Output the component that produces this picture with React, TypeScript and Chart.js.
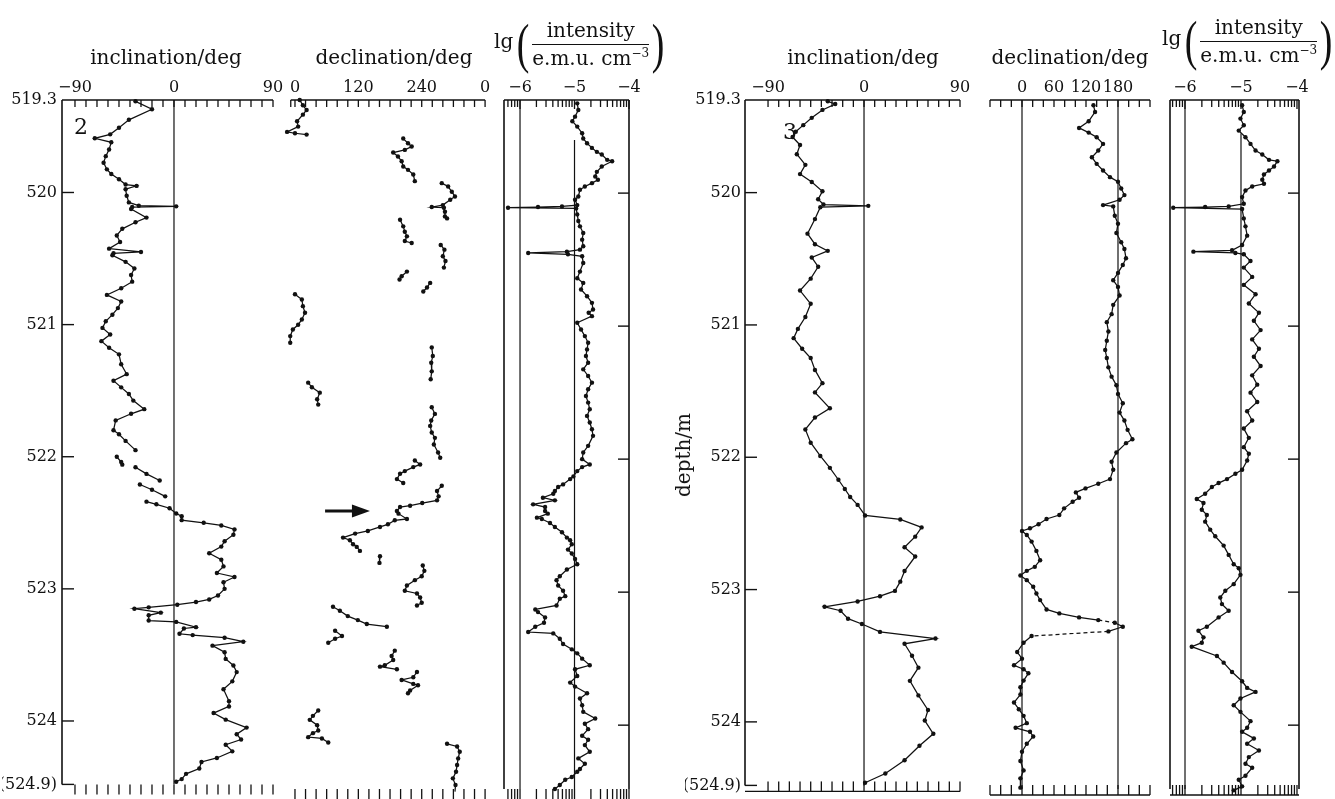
import React, { useEffect, useRef } from "react";
import { Chart, registerables } from "chart.js";
Chart.register(...registerables);

const INK = "#111111";
const SERIF = "'DejaVu Serif', 'Liberation Serif', serif";
const W = 1335;
const H = 799;

// ---------------- depth axis ----------------
const depthTop = 519.3;
const depthBottom = 524.48;
const depthTickValues = [519.3, 520, 521, 522, 523, 524, 524.48];
const depthTickLabels = ["519.3", "520", "521", "522", "523", "524", "(524.9)"];

// ---------------- x-axis ticks ----------------
const incTickValues = [-90, -80, -70, -60, -50, -40, -30, -20, -10, 0, 10, 20, 30, 40, 50, 60, 70, 80, 90];
const incLabelValues = [-90, 0, 90];
const incLabelTexts = ["\u221290", "0", "90"];
const decLTickValues = [-8, 0, 20, 40, 60, 80, 100, 120, 140, 160, 180, 200, 220, 240, 260, 280, 300, 320, 340, 360];
const decLLabelValues = [0, 120, 240, 360];
const decLLabelTexts = ["0", "120", "240", "0"];
const decRTickValues = [-60, -40, -20, 0, 20, 40, 60, 80, 100, 120, 140, 160, 180, 200, 220, 240];
const decRLabelValues = [0, 60, 120, 180];
const decRLabelTexts = ["0", "60", "120", "180"];
const intLabelValues = [-6, -5, -4];
const intLabelTexts = ["\u22126", "\u22125", "\u22124"];
const intDecades = [-7, -6, -5];
const intMultipliers = [1, 2, 3, 4, 5, 6, 7, 8, 9];

function logTicks(from: number, to: number) {
  const out: number[] = [];
  intDecades.forEach((e) => intMultipliers.forEach((k) => {
    const v = e + Math.log10(k);
    if (v >= from - 1e-6 && v <= to + 1e-6) out.push(v);
  }));
  out.push(-4);
  return out;
}

// ---------------- series: core 2 (left) ----------------
const incL_depth = [519.31, 519.37, 519.45, 519.51, 519.56, 519.59, 519.62, 519.675, 519.725, 519.775, 519.825, 519.86, 519.9, 519.94, 519.95, 519.975, 520.025, 520.075, 520.1, 520.105, 520.11, 520.125, 520.19, 520.225, 520.275, 520.325, 520.375, 520.425, 520.45, 520.46, 520.475, 520.525, 520.575, 520.625, 520.675, 520.725, 520.775, 520.825, 520.875, 520.925, 520.975, 521.025, 521.075, 521.125, 521.175, 521.225, 521.3, 521.375, 521.425, 521.475, 521.525, 521.575, 521.64, 521.675, 521.725, 521.8, 521.83, 521.88, 521.95, 521.98, 522.0, 522.04, 522.06, 522.07, 522.08, 522.13, 522.18, 522.2, 522.21, 522.25, 522.3, 522.32, 522.34, 522.36, 522.39, 522.43, 522.45, 522.48, 522.5, 522.52, 522.55, 522.59, 522.64, 522.68, 522.73, 522.78, 522.83, 522.88, 522.91, 522.95, 523.0, 523.05, 523.08, 523.1, 523.12, 523.14, 523.15, 523.18, 523.2, 523.24, 523.25, 523.29, 523.3, 523.34, 523.35, 523.37, 523.4, 523.43, 523.48, 523.53, 523.58, 523.63, 523.7, 523.76, 523.85, 523.89, 523.94, 523.99, 524.05, 524.1, 524.14, 524.18, 524.23, 524.28, 524.31, 524.36, 524.4, 524.44, 524.46];
const incL_value = [-35, -20, -41, -50, -58, -72, -57, -59, -62, -64, -61, -57, -50, -44, -34, -44, -43, -41, -32, 2, -38, -39, -25, -35, -47, -52, -49, -59, -30, -55, -56, -44, -36, -39, -38, -48, -61, -48, -51, -56, -62, -65, -58, -66, -59, -50, -48, -43, -55, -48, -41, -37, -27, -39, -53, -55, -50, -44, -35, null, -52, -48, -47, null, -35, -25, -13, null, -31, -20, -8, null, -25, -16, -4, 2, 7, 7, 27, 43, 55, 54, 46, 43, 32, 43, 45, 39, 55, 45, 46, 40, 32, 20, 3, -23, -36, -12, -23, -23, 2, 20, 9, 5, 17, 46, 63, 35, 46, 47, 54, 57, 53, 45, 50, 50, 36, 47, 66, 57, 61, 47, 53, 39, 25, 23, 11, 7, 2];

const decL_depth = [519.3, 519.34, 519.375, 519.41, 519.46, 519.5, 519.54, 519.55, 519.56, 519.575, 519.59, 519.625, 519.65, 519.675, 519.695, 519.725, 519.76, 519.8, 519.825, 519.86, 519.91, 519.92, 519.925, 519.95, 519.99, 520.025, 520.05, 520.09, 520.105, 520.11, 520.14, 520.175, 520.19, 520.195, 520.2, 520.25, 520.29, 520.325, 520.36, 520.375, 520.38, 520.39, 520.425, 520.475, 520.51, 520.56, 520.58, 520.59, 520.625, 520.65, 520.66, 520.675, 520.71, 520.74, 520.75, 520.76, 520.8, 520.85, 520.9, 520.95, 520.99, 521.025, 521.075, 521.125, 521.14, 521.16, 521.225, 521.275, 521.34, 521.4, 521.41, 521.425, 521.46, 521.5, 521.55, 521.59, 521.6, 521.61, 521.66, 521.71, 521.75, 521.8, 521.84, 521.89, 521.95, 521.99, 522.0, 522.01, 522.04, 522.06, 522.09, 522.11, 522.15, 522.18, 522.19, 522.2, 522.24, 522.28, 522.31, 522.33, 522.35, 522.36, 522.39, 522.41, 522.45, 522.46, 522.49, 522.51, 522.54, 522.56, 522.59, 522.61, 522.64, 522.66, 522.69, 522.71, 522.73, 522.78, 522.79, 522.8, 522.84, 522.88, 522.91, 522.95, 522.99, 523.01, 523.04, 523.08, 523.1, 523.105, 523.11, 523.14, 523.18, 523.21, 523.24, 523.26, 523.27, 523.29, 523.33, 523.35, 523.38, 523.41, 523.44, 523.48, 523.51, 523.55, 523.56, 523.58, 523.59, 523.6, 523.64, 523.66, 523.69, 523.7, 523.74, 523.76, 523.82, 523.89, 523.93, 523.96, 524.0, 524.04, 524.06, 524.09, 524.1, 524.13, 524.135, 524.14, 524.16, 524.2, 524.25, 524.3, 524.35, 524.4, 524.45, 524.5];
const decL_value = [9, 15, 22, 15, 4, 6, -15, 0, 22, null, 205, 214, 221, 208, 186, 195, 202, 205, 214, 224, 227, null, 278, 290, 297, 303, 294, 280, 259, 282, 284, 284, 288, null, 199, 205, 208, 212, 208, 221, null, 276, 283, 280, 285, 282, null, 212, 202, 198, null, 256, 250, 243, null, 0, 13, 15, 19, 13, 6, -4, -9, -9, null, 259, 261, 258, 259, 257, null, 25, 32, 47, 42, 44, null, 259, 265, 258, 256, 259, 265, 263, 271, 275, null, 227, 237, 224, 208, 199, 193, 205, null, 278, 269, 272, 269, 241, 218, 199, 193, 196, 212, 189, 176, 161, 138, 114, 91, 104, 110, 117, 123, null, 161, 160, null, 242, 245, 240, 227, 212, 208, 231, 237, 240, 231, null, 72, 85, 100, 119, 136, 174, null, 76, 89, 76, 63, null, 189, 183, 186, 170, 161, 193, null, 231, 224, 202, 224, 233, 218, 214, null, 44, 34, 28, 42, 44, 34, 25, 51, 63, null, 288, 307, 312, 309, 307, 305, 299, 304, 303];

const intL_depth = [519.325, 519.375, 519.425, 519.46, 519.5, 519.55, 519.59, 519.625, 519.66, 519.69, 519.71, 519.75, 519.76, 519.8, 519.84, 519.875, 519.9, 519.925, 519.95, 519.975, 520.025, 520.05, 520.09, 520.1, 520.105, 520.11, 520.115, 520.16, 520.21, 520.25, 520.3, 520.35, 520.4, 520.425, 520.44, 520.45, 520.46, 520.475, 520.525, 520.59, 520.64, 520.675, 520.725, 520.775, 520.825, 520.875, 520.9, 520.925, 520.975, 521.025, 521.075, 521.125, 521.175, 521.225, 521.275, 521.325, 521.375, 521.425, 521.475, 521.525, 521.575, 521.625, 521.675, 521.725, 521.775, 521.825, 521.9, 521.95, 522.0, 522.04, 522.06, 522.09, 522.13, 522.15, 522.19, 522.21, 522.24, 522.26, 522.29, 522.31, 522.34, 522.36, 522.39, 522.41, 522.44, 522.45, 522.48, 522.51, 522.55, 522.59, 522.61, 522.64, 522.68, 522.71, 522.75, 522.79, 522.83, 522.88, 522.91, 522.95, 522.99, 523.03, 523.05, 523.1, 523.13, 523.15, 523.19, 523.23, 523.26, 523.3, 523.31, 523.35, 523.39, 523.43, 523.46, 523.5, 523.55, 523.58, 523.63, 523.68, 523.71, 523.76, 523.8, 523.85, 523.9, 523.95, 523.99, 524.03, 524.08, 524.11, 524.15, 524.2, 524.25, 524.29, 524.33, 524.35, 524.39, 524.41, 524.45, 524.48];
const intL_value = [-4.95, -4.93, -4.99, -5.04, -4.95, -4.86, -4.84, -4.77, -4.68, -4.59, -4.5, -4.4, -4.31, -4.5, -4.59, -4.62, -4.57, -4.68, -4.81, -4.9, -4.93, -4.99, -4.95, -5.23, -5.67, -6.22, -4.97, -4.95, -4.93, -4.9, -4.84, -4.86, -4.84, -4.9, -5.14, -5.85, -5.12, -4.86, -4.84, -4.9, -4.95, -4.84, -4.88, -4.77, -4.68, -4.66, -4.74, -4.68, -4.95, -4.88, -4.81, -4.75, -4.77, -4.79, -4.75, -4.84, -4.75, -4.68, -4.75, -4.79, -4.75, -4.72, -4.77, -4.72, -4.68, -4.66, -4.75, -4.84, -4.86, -4.72, -4.86, -4.95, -5.02, -5.08, -5.21, -5.3, -5.36, -5.39, -5.58, -5.36, -5.76, -5.54, -5.54, -5.49, -5.69, -5.6, -5.45, -5.36, -5.23, -5.14, -5.08, -5.05, -5.12, -5.05, -4.99, -4.95, -5.14, -5.27, -5.33, -5.3, -5.21, -5.17, -5.27, -5.33, -5.72, -5.67, -5.54, -5.56, -5.72, -5.85, -5.39, -5.27, -5.21, -5.05, -4.95, -4.86, -4.72, -4.99, -4.95, -5.08, -4.99, -4.77, -4.9, -4.86, -4.84, -4.62, -4.81, -4.75, -4.86, -4.75, -4.81, -4.72, -4.93, -4.81, -4.9, -4.95, -5.05, -5.17, -5.27, -5.36];

// ---------------- series: core 3 (right) ----------------
const incR_depth = [519.31, 519.33, 519.375, 519.435, 519.49, 519.54, 519.58, 519.64, 519.71, 519.79, 519.86, 519.92, 519.99, 520.05, 520.09, 520.1, 520.11, 520.2, 520.31, 520.39, 520.44, 520.49, 520.56, 520.65, 520.74, 520.84, 520.94, 521.03, 521.1, 521.18, 521.25, 521.34, 521.44, 521.51, 521.63, 521.7, 521.79, 521.89, 521.99, 522.08, 522.17, 522.24, 522.3, 522.36, 522.44, 522.47, 522.53, 522.6, 522.68, 522.75, 522.86, 522.94, 523.01, 523.05, 523.09, 523.13, 523.16, 523.22, 523.26, 523.32, 523.37, 523.41, 523.5, 523.59, 523.69, 523.8, 523.91, 523.99, 524.09, 524.18, 524.29, 524.39, 524.46];
const incR_value = [-34, -27, -39, -49, -57, -64, -67, -60, -63, -55, -60, -49, -39, -43, -38, 4, -41, -46, -53, -46, -34, -49, -43, -50, -60, -50, -55, -62, -66, -58, -50, -46, -39, -46, -32, -46, -55, -50, -41, -32, -24, -18, -13, -6, 1, 34, 54, 48, 38, 48, 38, 34, 29, 15, -6, -37, -22, -15, -2, 15, 67, 38, 45, 51, 43, 51, 60, 57, 65, 52, 38, 20, 1];

const decR_depth = [519.34, 519.39, 519.46, 519.51, 519.545, 519.58, 519.63, 519.68, 519.73, 519.78, 519.83, 519.88, 519.915, 519.965, 520.015, 520.05, 520.09, 520.1, 520.17, 520.23, 520.3, 520.37, 520.42, 520.49, 520.54, 520.6, 520.655, 520.705, 520.77, 520.84, 520.91, 520.97, 521.04, 521.11, 521.18, 521.24, 521.31, 521.38, 521.445, 521.51, 521.58, 521.65, 521.71, 521.78, 521.85, 521.88, 521.95, 522.02, 522.08, 522.15, 522.185, 522.22, 522.25, 522.29, 522.32, 522.37, 522.42, 522.45, 522.49, 522.52, 522.54, 522.57, 522.62, 522.69, 522.76, 522.81, 522.84, 522.875, 522.91, 522.96, 523.01, 523.06, 523.13, 523.16, 523.19, 523.21, 523.23, 523.26, 523.295, 523.33, 523.38, 523.45, 523.5, 523.55, 523.58, 523.61, 523.665, 523.715, 523.77, 523.83, 523.88, 523.93, 523.985, 524.02, 524.05, 524.085, 524.14, 524.2, 524.27, 524.34, 524.4, 524.47];
const decR_value = [134, 137, 125, 107, 125, 140, 152, 143, 131, 140, 152, 165, 180, 186, 192, 183, 152, 171, 174, 180, 177, 186, 192, 195, 189, 180, 171, 180, 183, 171, 168, 159, 162, 159, 156, 159, 162, 168, 177, 180, 189, 183, 192, 198, 207, 195, 177, 168, 171, 165, 143, 119, 101, 107, 95, 79, 70, 46, 31, 15, 0, 9, 18, 27, 34, 24, 9, -3, 9, 21, 27, 34, 46, 70, 107, 143, 174, 189, 162, 18, 3, -9, 0, -15, 3, 12, 3, -3, -3, -15, -6, 3, 9, -12, 15, 21, 9, 0, -3, 3, -3, -3];
const decR_dashedFrom = [523.21, 523.295];

const intR_depth = [519.34, 519.39, 519.44, 519.49, 519.53, 519.58, 519.63, 519.68, 519.71, 519.75, 519.76, 519.8, 519.83, 519.86, 519.9, 519.93, 519.95, 519.98, 520.03, 520.08, 520.1, 520.105, 520.11, 520.12, 520.19, 520.25, 520.32, 520.39, 520.43, 520.44, 520.45, 520.46, 520.51, 520.56, 520.63, 520.69, 520.76, 520.83, 520.9, 520.96, 521.03, 521.1, 521.17, 521.23, 521.3, 521.37, 521.44, 521.5, 521.57, 521.64, 521.71, 521.77, 521.84, 521.91, 521.96, 522.01, 522.08, 522.11, 522.15, 522.18, 522.21, 522.26, 522.3, 522.33, 522.38, 522.42, 522.47, 522.53, 522.58, 522.65, 522.72, 522.79, 522.82, 522.87, 522.94, 522.99, 523.04, 523.09, 523.14, 523.19, 523.26, 523.29, 523.34, 523.38, 523.41, 523.48, 523.53, 523.6, 523.67, 523.72, 523.75, 523.8, 523.85, 523.9, 523.97, 524.02, 524.05, 524.1, 524.14, 524.19, 524.24, 524.29, 524.32, 524.38, 524.41, 524.46, 524.49];
const intR_value = [-4.98, -4.95, -5.01, -4.95, -5.04, -4.92, -4.83, -4.74, -4.62, -4.5, -4.35, -4.41, -4.5, -4.59, -4.62, -4.59, -4.8, -4.92, -4.98, -4.95, -5.22, -5.64, -6.21, -4.98, -4.95, -4.92, -4.89, -4.98, -5.16, -5.85, -5.1, -4.95, -4.83, -4.95, -4.8, -4.95, -4.74, -4.86, -4.68, -4.77, -4.65, -4.8, -4.68, -4.77, -4.65, -4.8, -4.71, -4.83, -4.71, -4.89, -4.8, -4.95, -4.86, -4.95, -4.86, -4.89, -4.98, -5.1, -5.25, -5.4, -5.52, -5.64, -5.79, -5.67, -5.7, -5.61, -5.64, -5.55, -5.46, -5.31, -5.22, -5.13, -5.04, -5.01, -5.13, -5.28, -5.37, -5.34, -5.22, -5.4, -5.61, -5.76, -5.67, -5.7, -5.88, -5.43, -5.31, -5.16, -4.98, -4.89, -4.74, -5.01, -5.13, -5.01, -4.83, -4.89, -4.98, -4.77, -4.89, -4.68, -4.86, -4.92, -4.8, -4.92, -5.04, -4.98, -5.13];

// ---------------- panel specs ----------------
type Decor = {
  frameLeft?: boolean;
  frameRight?: boolean;
  topFrom?: number;
  topTo?: number;
  topTicks: number[];
  majorTicks?: number[];
  bottomTicks: number[];
  bottomY0: number;
  bottomY1: number;
  bottomLine?: boolean;
  vlines: { v: number; from?: number }[];
  depthTicksLeft?: boolean;
  depthTicksRight?: boolean;
  arrow?: { x0: number; x1: number; d: number };
};
type Spec = {
  id: string;
  area: { l: number; r: number; t: number; b: number };
  xMin: number;
  xMax: number;
  labelValues: number[];
  labelTexts: string[];
  depthAxis?: boolean;
  depthPad?: number;
  depth: number[];
  values: (number | null)[];
  dashedFrom?: number[];
  decor: Decor;
};

const intLTicks = logTicks(-6.3, -4);
const intRTicks = logTicks(-6.27, -4);

const SPECS: Spec[] = [
  {
    id: "incL", area: { l: 62, r: 273, t: 100, b: 789 }, xMin: -101.8, xMax: 90,
    labelValues: incLabelValues, labelTexts: incLabelTexts, depthAxis: true, depthPad: 5,
    depth: incL_depth, values: incL_value,
    decor: { frameLeft: true, topTo: 90, topTicks: incTickValues, bottomTicks: incTickValues, bottomY0: 0, bottomY1: 10, vlines: [{ v: 0 }], depthTicksLeft: true },
  },
  {
    id: "decL", area: { l: 285, r: 492, t: 100, b: 789 }, xMin: -18.9, xMax: 373.1,
    labelValues: decLLabelValues, labelTexts: decLLabelTexts,
    depth: decL_depth, values: decL_value,
    decor: { topFrom: -8, topTo: 360, topTicks: decLTickValues, bottomTicks: decLTickValues.slice(1), bottomY0: 0, bottomY1: 10, vlines: [], arrow: { x0: 57, x1: 142, d: 522.39 } },
  },
  {
    id: "intL", area: { l: 504, r: 629, t: 100, b: 789 }, xMin: -6.294, xMax: -4,
    labelValues: intLabelValues, labelTexts: intLabelTexts,
    depth: intL_depth, values: intL_value,
    decor: { frameLeft: true, frameRight: true, topTicks: intLTicks, majorTicks: intLabelValues, bottomTicks: intLTicks, bottomY0: 0, bottomY1: 10, vlines: [{ v: -6 }, { v: -5, from: 519.6 }], depthTicksRight: true },
  },
  {
    id: "incR", area: { l: 745, r: 960, t: 100, b: 789 }, xMin: -111.6, xMax: 90,
    labelValues: incLabelValues, labelTexts: incLabelTexts, depthAxis: true, depthPad: 4,
    depth: incR_depth, values: incR_value,
    decor: { frameLeft: true, topTo: 90, topTicks: incTickValues, bottomTicks: incTickValues, bottomY0: -4, bottomY1: 6, bottomLine: true, vlines: [{ v: 0 }], depthTicksLeft: true },
  },
  {
    id: "decR", area: { l: 988, r: 1150, t: 100, b: 789 }, xMin: -63.75, xMax: 240,
    labelValues: decRLabelValues, labelTexts: decRLabelTexts,
    depth: decR_depth, values: decR_value, dashedFrom: decR_dashedFrom,
    decor: { topFrom: -60, topTo: 240, topTicks: decRTickValues, bottomTicks: decRTickValues, bottomY0: -4, bottomY1: 6, bottomLine: true, vlines: [{ v: 0 }, { v: 180 }] },
  },
  {
    id: "intR", area: { l: 1170, r: 1299, t: 100, b: 789 }, xMin: -6.268, xMax: -3.964,
    labelValues: intLabelValues, labelTexts: intLabelTexts,
    depth: intR_depth, values: intR_value,
    decor: { frameLeft: true, frameRight: true, topTicks: intRTicks, majorTicks: intLabelValues, bottomTicks: intRTicks, bottomY0: -4, bottomY1: 6, bottomLine: true, vlines: [{ v: -6 }, { v: -5, from: 519.55 }], depthTicksRight: true },
  },
];

function Panel({ spec }: { spec: Spec }) {
  const ref = useRef<HTMLCanvasElement>(null);
  useEffect(() => {
    const canvas = ref.current;
    if (!canvas) return;
    const yw = spec.depthAxis ? 60 : 0;
    const dashSet = new Set(spec.dashedFrom ?? []);
    const points = spec.depth.map((d, i) => ({ x: spec.values[i], y: d }));
    const dec = spec.decor;

    const decorPlugin = {
      id: "decor_" + spec.id,
      beforeDatasetsDraw(chart: any) {
        const { ctx, chartArea: a, scales } = chart;
        const X = (v: number) => scales.x.getPixelForValue(v);
        const Y = (v: number) => scales.y.getPixelForValue(v);
        ctx.save();
        ctx.strokeStyle = INK;
        ctx.fillStyle = INK;
        const seg = (x0: number, y0: number, x1: number, y1: number, w = 1.3) => {
          ctx.lineWidth = w;
          ctx.beginPath();
          ctx.moveTo(x0, y0);
          ctx.lineTo(x1, y1);
          ctx.stroke();
        };
        const tx0 = dec.topFrom !== undefined ? X(dec.topFrom) : a.left;
        const tx1 = dec.topTo !== undefined ? X(dec.topTo) : a.right;
        seg(tx0, a.top, tx1, a.top, 1.6);
        dec.topTicks.forEach((v) => {
          const major = (dec.majorTicks ?? []).some((m) => Math.abs(m - v) < 1e-6);
          seg(X(v), a.top, X(v), a.top + (major ? 9 : 7), 1.3);
        });
        dec.bottomTicks.forEach((v) => seg(X(v), a.bottom + dec.bottomY0, X(v), a.bottom + dec.bottomY1, 1.3));
        if (dec.bottomLine) seg(tx0, a.bottom + dec.bottomY1, tx1, a.bottom + dec.bottomY1, 1.4);
        dec.vlines.forEach((vl) => seg(X(vl.v), vl.from !== undefined ? Y(vl.from) : a.top, X(vl.v), a.bottom, 1.2));
        if (dec.frameLeft) seg(a.left, a.top, a.left, a.bottom, 1.6);
        if (dec.frameRight) seg(a.right, a.top, a.right, a.bottom, 1.6);
        if (dec.depthTicksLeft) depthTickValues.slice(1).forEach((v) => seg(a.left, Y(v), a.left + 12, Y(v), 1.4));
        if (dec.depthTicksRight) depthTickValues.slice(1, 6).forEach((v) => seg(a.right - 11, Y(v), a.right, Y(v), 1.4));
        if (dec.arrow) {
          const ax0 = X(dec.arrow.x0), ax1 = X(dec.arrow.x1), ay = Y(dec.arrow.d);
          seg(ax0, ay, ax1 - 12, ay, 2.8);
          ctx.beginPath();
          ctx.moveTo(ax1, ay);
          ctx.lineTo(ax1 - 18, ay - 6.5);
          ctx.lineTo(ax1 - 18, ay + 6.5);
          ctx.closePath();
          ctx.fill();
        }
        ctx.restore();
      },
    };

    const chart = new Chart(canvas, {
      type: "scatter",
      data: {
        datasets: [
          {
            data: points as any,
            showLine: true,
            borderColor: INK,
            borderWidth: 1.25,
            pointRadius: 2.2,
            pointHoverRadius: 0,
            pointBackgroundColor: INK,
            pointBorderWidth: 0,
            spanGaps: false,
            clip: false as any,
            segment: {
              borderDash: (ctx: any) => (dashSet.has(spec.depth[ctx.p0DataIndex]) ? [4, 3] : undefined),
            },
          } as any,
        ],
      },
      options: {
        responsive: false,
        animation: false,
        events: [],
        layout: { padding: { left: spec.area.l - yw, right: W - spec.area.r, top: 0, bottom: H - spec.area.b } },
        plugins: { legend: { display: false }, tooltip: { enabled: false } },
        scales: {
          x: {
            type: "linear",
            position: "top",
            min: spec.xMin,
            max: spec.xMax,
            afterBuildTicks: (s: any) => {
              s.ticks = spec.labelValues.map((v) => ({ value: v }));
            },
            afterFit: (s: any) => {
              s.height = spec.area.t;
            },
            grid: { display: false, drawTicks: false },
            border: { display: false },
            ticks: {
              autoSkip: false,
              maxRotation: 0,
              minRotation: 0,
              padding: 3,
              color: INK,
              font: { family: SERIF, size: 16 },
              callback: (_v: any, i: number) => spec.labelTexts[i],
            },
          },
          y: {
            type: "linear",
            reverse: true,
            min: depthTop,
            max: depthBottom,
            display: !!spec.depthAxis,
            afterBuildTicks: (s: any) => {
              s.ticks = depthTickValues.map((v) => ({ value: v }));
            },
            afterFit: (s: any) => {
              s.width = yw;
            },
            grid: { display: false, drawTicks: false },
            border: { display: false },
            ticks: {
              autoSkip: false,
              padding: spec.depthPad ?? 5,
              color: INK,
              font: { family: SERIF, size: 16 },
              callback: (_v: any, i: number) => depthTickLabels[i],
            },
          },
        },
      } as any,
      plugins: [decorPlugin as any],
    });
    return () => chart.destroy();
  }, [spec]);
  return <canvas ref={ref} width={W} height={H} style={{ position: "absolute", left: 0, top: 0 }} />;
}

function Txt({ x, y, children, size = 20, rotate }: { x: number; y: number; children: any; size?: number; rotate?: number }) {
  return (
    <div
      style={{
        position: "absolute",
        left: x,
        top: y,
        transform: `translate(-50%, -50%)${rotate ? ` rotate(${rotate}deg)` : ""}`,
        font: `${size}px ${SERIF}`,
        color: INK,
        whiteSpace: "nowrap",
        lineHeight: 1,
      }}
    >
      {children}
    </div>
  );
}

function IntensityTitle({ left, top }: { left: number; top: number }) {
  const paren = { font: "54px 'Liberation Serif', serif", lineHeight: 1, display: "inline-block", transform: "scaleX(0.7)" } as const;
  return (
    <div style={{ position: "absolute", left, top, display: "flex", alignItems: "center", font: `20px ${SERIF}`, color: INK, whiteSpace: "nowrap" }}>
      <span style={{ marginRight: 1, position: "relative", top: -3 }}>lg</span>
      <span style={paren}>(</span>
      <span style={{ display: "flex", flexDirection: "column", alignItems: "stretch", lineHeight: 1.15 }}>
        <span style={{ textAlign: "center", borderBottom: `1.3px solid ${INK}`, paddingBottom: 2 }}>intensity</span>
        <span style={{ textAlign: "center", paddingTop: 2 }}>
          e.m.u. cm<sup style={{ fontSize: 12, lineHeight: 0 }}>{"\u22123"}</sup>
        </span>
      </span>
      <span style={paren}>)</span>
    </div>
  );
}

export default function App() {
  return (
    <div style={{ position: "fixed", left: 0, top: 0, width: W, height: H, background: "#ffffff", overflow: "hidden" }}>
      {SPECS.map((s) => (
        <Panel key={s.id} spec={s} />
      ))}
      <Txt x={166} y={57}>inclination/deg</Txt>
      <Txt x={394} y={57}>declination/deg</Txt>
      <Txt x={863} y={57}>inclination/deg</Txt>
      <Txt x={1070} y={57}>declination/deg</Txt>
      <Txt x={683} y={455} rotate={-90}>depth/m</Txt>
      <Txt x={81} y={127} size={22}>2</Txt>
      <Txt x={790} y={132} size={22}>3</Txt>
      <IntensityTitle left={494} top={17} />
      <IntensityTitle left={1162} top={14} />
    </div>
  );
}
